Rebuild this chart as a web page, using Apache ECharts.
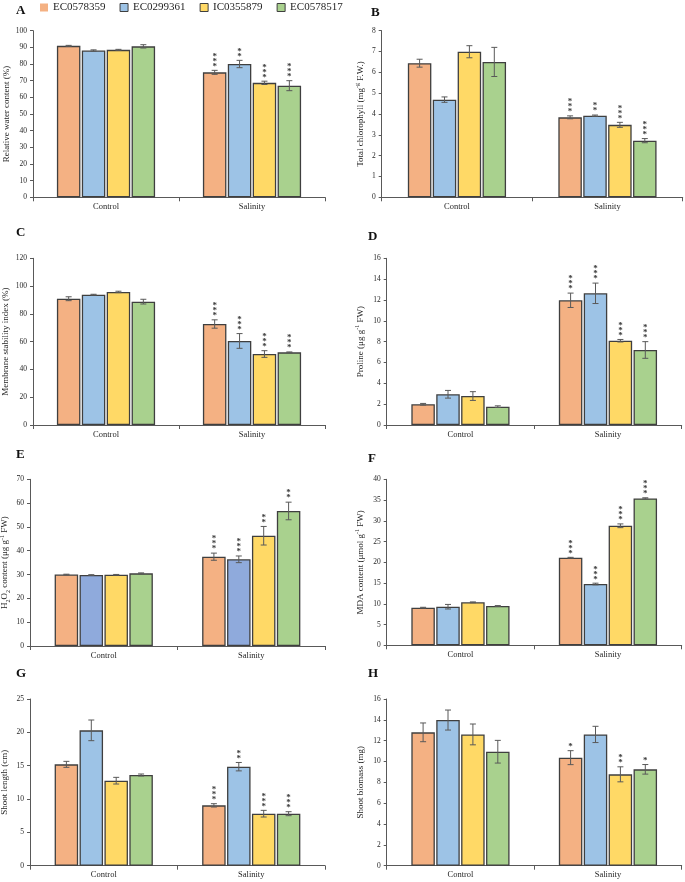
<!DOCTYPE html>
<html>
<head>
<meta charset="utf-8">
<script src="https://cdn.jsdelivr.net/npm/echarts@6/dist/echarts.min.js"></script>
<style>
html,body{margin:0;padding:0;background:#fff;}
#chart{width:685px;height:882px;}
</style>
</head>
<body>
<div id="chart"></div>
<script>
// ---------- DATA ----------
const categories = ['Control', 'Salinity'];
const genotypes = ['EC0578359', 'EC0299361', 'IC0355879', 'EC0578517'];

// A: Relative water content (%)  [category][genotype]
const rwcMean = [[90.9, 88.1, 88.5, 90.6], [75.0, 80.0, 68.7, 67.0]];
const rwcErr = [[0.3, 0.4, 0.3, 1.0], [1.2, 2.2, 1.0, 3.0]];
const rwcStars = [['', '', '', ''], ['***', '**', '***', '***']];
const rwcAxis = [0, 100, 10];

// B: Total chlorophyll
const chlMean = [[6.44, 4.69, 6.99, 6.50], [3.84, 3.92, 3.48, 2.72]];
const chlErr = [[0.19, 0.13, 0.29, 0.70], [0.07, 0.03, 0.12, 0.10]];
const chlStars = [['', '', '', ''], ['***', '**', '***', '***']];
const chlAxis = [0, 8, 1];

// C: Membrane stability index (%)
const msiMean = [[90.9, 93.8, 95.8, 88.8], [72.7, 60.5, 51.1, 52.3]];
const msiErr = [[1.4, 0.3, 0.5, 1.7], [3.0, 5.3, 2.4, 0.3]];
const msiStars = [['', '', '', ''], ['***', '***', '***', '***']];
const msiAxis = [0, 120, 20];

// D: Proline
const proMean = [[1.99, 2.95, 2.78, 1.76], [11.97, 12.64, 8.09, 7.20]];
const proErr = [[0.08, 0.37, 0.42, 0.08], [0.69, 0.98, 0.12, 0.80]];
const proStars = [['', '', '', ''], ['***', '***', '***', '***']];
const proAxis = [0, 16, 2];

// E: H2O2 content
const h2o2Mean = [[30.0, 29.8, 29.9, 30.5], [37.5, 36.4, 46.3, 56.7]];
const h2o2Err = [[0.15, 0.15, 0.15, 0.2], [1.5, 1.4, 3.9, 3.7]];
const h2o2Stars = [['', '', '', ''], ['***', '***', '**', '**']];
const h2o2Axis = [0, 70, 10];

// F: MDA content
const mdaMean = [[9.06, 9.30, 10.36, 9.47], [21.1, 14.77, 28.8, 35.4]];
const mdaErr = [[0.1, 0.55, 0.1, 0.1], [0.1, 0.2, 0.45, 0.15]];
const mdaStars = [['', '', '', ''], ['***', '***', '***', '***']];
const mdaAxis = [0, 40, 5];

// G: Shoot length (cm)
const slMean = [[15.2, 20.3, 12.75, 13.6], [9.05, 14.85, 7.8, 7.8]];
const slErr = [[0.45, 1.55, 0.5, 0.15], [0.25, 0.63, 0.5, 0.3]];
const slStars = [['', '', '', ''], ['***', '**', '***', '***']];
const slAxis = [0, 25, 5];

// H: Shoot biomass (mg)
const sbMean = [[12.8, 13.98, 12.6, 10.94], [10.37, 12.6, 8.77, 9.25]];
const sbErr = [[0.9, 0.96, 1.0, 1.09], [0.67, 0.78, 0.72, 0.46]];
const sbStars = [['', '', '', ''], ['*', '', '**', '*']];
const sbAxis = [0, 16, 2];

// ---------- STYLE ----------
const FONT = 'Liberation Serif';
const TXT = '#262626';
const AXIS = '#595959';
const BAR_W = 23.5;
const GAP = 1.4;
const colors = ['#F4B183', '#9DC3E6', '#FFD966', '#A9D18E'];
const colorsE = ['#F4B183', '#8FAADC', '#FFD966', '#A9D18E'];

const richBase = {
  n: { fontSize: 9, lineHeight: 12, fontFamily: FONT, color: TXT },
  sup: { fontSize: 6, lineHeight: 6, verticalAlign: 'top', fontFamily: FONT, color: TXT },
  sub: { fontSize: 6, lineHeight: 6, verticalAlign: 'bottom', fontFamily: FONT, color: TXT }
};

const panels = [
  { letter: 'A', mean: rwcMean, err: rwcErr, stars: rwcStars, axis: rwcAxis,
    name: '{n|Relative water content (%)}', grid: { left: 33, top: 30.7, width: 292, height: 166.6 }, gap: 20, lx: 16, ly: 11.5 },
  { letter: 'B', mean: chlMean, err: chlErr, stars: chlStars, axis: chlAxis,
    name: '{n|Total chlorophyll (mg}{sup|-g}{n| F.W.)}', grid: { left: 381.7, top: 30.7, width: 301, height: 166.6 }, gap: 15, lx: 371, ly: 13 },
  { letter: 'C', mean: msiMean, err: msiErr, stars: msiStars, axis: msiAxis,
    name: '{n|Membrane stability index (%)}', grid: { left: 33, top: 258.3, width: 292, height: 166.7 }, gap: 21, lx: 16, ly: 233 },
  { letter: 'D', mean: proMean, err: proErr, stars: proStars, axis: proAxis,
    name: '{n|Proline (μg g}{sup|-1}{n| FW)}', grid: { left: 386.7, top: 258.3, width: 295, height: 166.7 }, gap: 20, lx: 368, ly: 237 },
  { letter: 'E', mean: h2o2Mean, err: h2o2Err, stars: h2o2Stars, axis: h2o2Axis,
    name: '{n|H}{sub|2}{n|O}{sub|2}{n| content (μg g}{sup|-1}{n| FW)}', grid: { left: 30, top: 479.3, width: 295, height: 166.7 }, gap: 19, lx: 16, ly: 455, colors: colorsE },
  { letter: 'F', mean: mdaMean, err: mdaErr, stars: mdaStars, axis: mdaAxis,
    name: '{n|MDA content (μmol g}{sup|-1}{n| FW)}', grid: { left: 386.7, top: 479.3, width: 295, height: 166 }, gap: 20, lx: 368, ly: 459 },
  { letter: 'G', mean: slMean, err: slErr, stars: slStars, axis: slAxis,
    name: '{n|Shoot length (cm)}', grid: { left: 30, top: 699, width: 295, height: 166.7 }, gap: 19, lx: 16, ly: 674 },
  { letter: 'H', mean: sbMean, err: sbErr, stars: sbStars, axis: sbAxis,
    name: '{n|Shoot biomass (mg)}', grid: { left: 386.7, top: 699, width: 295, height: 166.7 }, gap: 20, lx: 368, ly: 674 }
];

const grids = [], xAxes = [], yAxes = [], series = [], graphics = [];

panels.forEach((p, pi) => {
  grids.push(Object.assign({ outerBoundsMode: 'none', containLabel: false }, p.grid));
  xAxes.push({
    type: 'category', gridIndex: pi, data: categories,
    axisLine: { show: true, lineStyle: { color: AXIS, width: 1 } },
    axisTick: { show: true, length: 4, lineStyle: { color: AXIS } },
    axisLabel: { fontFamily: FONT, fontSize: 8.5, color: TXT, margin: 5 },
    splitLine: { show: false }
  });
  yAxes.push({
    type: 'value', gridIndex: pi, min: p.axis[0], max: p.axis[1], interval: p.axis[2],
    axisLine: { show: true, lineStyle: { color: AXIS, width: 1 } },
    axisTick: { show: true, length: 3, lineStyle: { color: AXIS } },
    axisLabel: { fontFamily: FONT, fontSize: 7.5, color: TXT, margin: 6 },
    splitLine: { show: false },
    name: p.name, nameLocation: 'middle', nameGap: p.gap,
    nameTextStyle: { rich: richBase }
  });
  const cols = p.colors || colors;
  genotypes.forEach((g, gi) => {
    series.push({
      type: 'bar', name: g, xAxisIndex: pi, yAxisIndex: pi,
      data: categories.map((c, ci) => p.mean[ci][gi]),
      barWidth: BAR_W, barGap: (GAP / BAR_W * 100) + '%',
      itemStyle: { color: cols[gi], borderColor: '#3f3f3f', borderWidth: 1.3 },
      emphasis: { disabled: true },
      animation: false
    });
  });
  const errData = [];
  categories.forEach((c, ci) => {
    genotypes.forEach((g, gi) => {
      errData.push([ci, gi, p.mean[ci][gi], p.err[ci][gi]]);
    });
  });
  const stars = p.stars;
  series.push({
    type: 'custom', name: 'err' + pi, xAxisIndex: pi, yAxisIndex: pi, z: 5,
    data: errData, encode: { x: 0, y: 2 }, animation: false, silent: true,
    renderItem: function (params, api) {
      const ci = api.value(0), gi = api.value(1), m = api.value(2), e = api.value(3);
      const center = api.coord([ci, 0])[0];
      const x = center + (gi - 1.5) * (BAR_W + GAP);
      const yT = api.coord([ci, m + e])[1];
      const yB = api.coord([ci, m - e])[1];
      const ls = { stroke: '#595959', lineWidth: 1 };
      const children = [
        { type: 'line', shape: { x1: x, y1: yT, x2: x, y2: yB }, style: ls },
        { type: 'line', shape: { x1: x - 3, y1: yT, x2: x + 3, y2: yT }, style: ls },
        { type: 'line', shape: { x1: x - 3, y1: yB, x2: x + 3, y2: yB }, style: ls }
      ];
      const s = stars[ci][gi];
      for (let k = 0; k < s.length; k++) {
        children.push({
          type: 'text',
          style: {
            text: '*', x: x, y: yT - 4 - k * 5,
            font: 'bold 9px "Liberation Serif"', fill: '#3a3a3a',
            align: 'center', verticalAlign: 'middle'
          }
        });
      }
      return { type: 'group', children: children };
    }
  });
  graphics.push({
    type: 'text', left: p.lx, top: p.ly - 7,
    style: { text: p.letter, font: 'bold 13px "Liberation Serif"', fill: '#111' }
  });
});

const chart = echarts.init(document.getElementById('chart'), null, { renderer: 'canvas' });
chart.setOption({
  backgroundColor: '#fff',
  animation: false,
  legend: {
    left: 40, top: 2, padding: 0, itemGap: 14, itemWidth: 8, itemHeight: 8,
    icon: 'rect',
    textStyle: { fontFamily: FONT, fontSize: 11, color: TXT },
    data: genotypes.map((n, i) => ({
      name: n,
      itemStyle: i === 0 ? { borderWidth: 0 } : { borderColor: '#3f3f3f', borderWidth: 1 }
    })),
    selectedMode: false
  },
  grid: grids,
  xAxis: xAxes,
  yAxis: yAxes,
  series: series,
  graphic: graphics
});
</script>
</body>
</html>
